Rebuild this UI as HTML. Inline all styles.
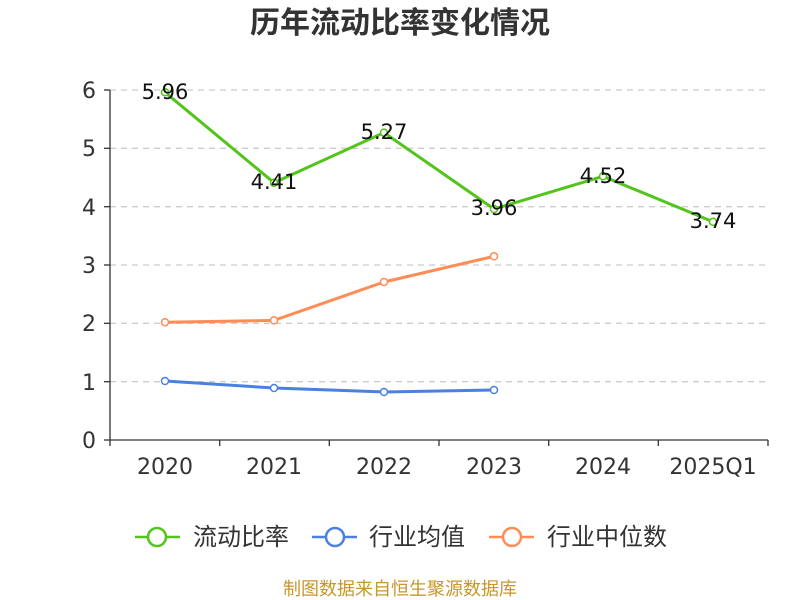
<!DOCTYPE html>
<html><head><meta charset="utf-8"><style>body{margin:0;background:#fff}svg{display:block}</style></head><body>
<svg width="800" height="600" xmlns="http://www.w3.org/2000/svg" font-family="'DejaVu Sans','Noto Sans CJK SC',sans-serif">
<text x="400" y="33" text-anchor="middle" font-size="30" font-weight="bold" fill="#333" font-family="'Noto Sans CJK SC',sans-serif">历年流动比率变化情况</text>
<g stroke="#ccc" stroke-dasharray="6,5" stroke-width="1.3">
<line x1="110" x2="768" y1="90" y2="90"/><line x1="110" x2="768" y1="148.3" y2="148.3"/><line x1="110" x2="768" y1="206.7" y2="206.7"/><line x1="110" x2="768" y1="265" y2="265"/><line x1="110" x2="768" y1="323.3" y2="323.3"/><line x1="110" x2="768" y1="381.7" y2="381.7"/>
</g>
<g stroke="#333" stroke-width="1.3">
<line x1="110" x2="110" y1="90" y2="440"/><line x1="110" x2="768" y1="440" y2="440"/>
<line x1="104" x2="110" y1="90" y2="90"/><line x1="104" x2="110" y1="148.3" y2="148.3"/><line x1="104" x2="110" y1="206.7" y2="206.7"/><line x1="104" x2="110" y1="265" y2="265"/><line x1="104" x2="110" y1="323.3" y2="323.3"/><line x1="104" x2="110" y1="381.7" y2="381.7"/><line x1="104" x2="110" y1="440" y2="440"/>
<line x1="110" x2="110" y1="440" y2="446"/><line x1="219.7" x2="219.7" y1="440" y2="446"/><line x1="329.3" x2="329.3" y1="440" y2="446"/><line x1="439" x2="439" y1="440" y2="446"/><line x1="548.7" x2="548.7" y1="440" y2="446"/><line x1="658.3" x2="658.3" y1="440" y2="446"/><line x1="768" x2="768" y1="440" y2="446"/>
</g>
<g font-size="22" fill="#333" text-anchor="end">
<text x="96" y="98">6</text><text x="96" y="156">5</text><text x="96" y="215">4</text><text x="96" y="273">3</text><text x="96" y="331">2</text><text x="96" y="390">1</text><text x="96" y="448">0</text>
</g>
<g font-size="22" fill="#333" text-anchor="middle">
<text x="165" y="474">2020</text><text x="274" y="474">2021</text><text x="384" y="474">2022</text><text x="494" y="474">2023</text><text x="603" y="474">2024</text><text x="713" y="474">2025Q1</text>
</g>
<polyline fill="none" stroke="#52c41a" stroke-width="3" points="165,92.3 274,182.7 384,132.6 494,209 603,176.3 713,221.8"/>
<polyline fill="none" stroke="#ff8c55" stroke-width="3" points="165,322.2 274,320.4 384,282 494,256.3"/>
<polyline fill="none" stroke="#4a80e0" stroke-width="3" points="165,381 274,388 384,392 494,390"/>
<g fill="#fff" stroke-width="1.5">
<g stroke="#52c41a"><circle cx="165" cy="92.3" r="3.5"/><circle cx="274" cy="182.7" r="3.5"/><circle cx="384" cy="132.6" r="3.5"/><circle cx="494" cy="209" r="3.5"/><circle cx="603" cy="176.3" r="3.5"/><circle cx="713" cy="221.8" r="3.5"/></g>
<g stroke="#ff8c55"><circle cx="165" cy="322.2" r="3.5"/><circle cx="274" cy="320.4" r="3.5"/><circle cx="384" cy="282" r="3.5"/><circle cx="494" cy="256.3" r="3.5"/></g>
<g stroke="#4a80e0"><circle cx="165" cy="381" r="3.5"/><circle cx="274" cy="388" r="3.5"/><circle cx="384" cy="392" r="3.5"/><circle cx="494" cy="390" r="3.5"/></g>
</g>
<g font-size="21" fill="#111" text-anchor="middle">
<text x="165" y="99">5.96</text><text x="274" y="189">4.41</text><text x="384" y="139">5.27</text><text x="494" y="215">3.96</text><text x="603" y="183">4.52</text><text x="713" y="228">3.74</text>
</g>
<g stroke-width="2.5" fill="#fff">
<line x1="135" x2="180" y1="537" y2="537" stroke="#52c41a"/><circle cx="157" cy="537" r="9" stroke="#52c41a"/>
<line x1="312" x2="357" y1="537" y2="537" stroke="#4a80e0"/><circle cx="335" cy="537" r="9" stroke="#4a80e0"/>
<line x1="489" x2="534" y1="537" y2="537" stroke="#ff8c55"/><circle cx="512" cy="537" r="9" stroke="#ff8c55"/>
</g>
<g font-size="24" fill="#333" font-family="'Noto Sans CJK SC',sans-serif">
<text x="193" y="545">流动比率</text><text x="369" y="545">行业均值</text><text x="547" y="545">行业中位数</text>
</g>
<text x="400" y="595" text-anchor="middle" font-size="18" fill="#c8962a" font-family="'Noto Sans CJK SC',sans-serif">制图数据来自恒生聚源数据库</text>
</svg>
</body></html>
